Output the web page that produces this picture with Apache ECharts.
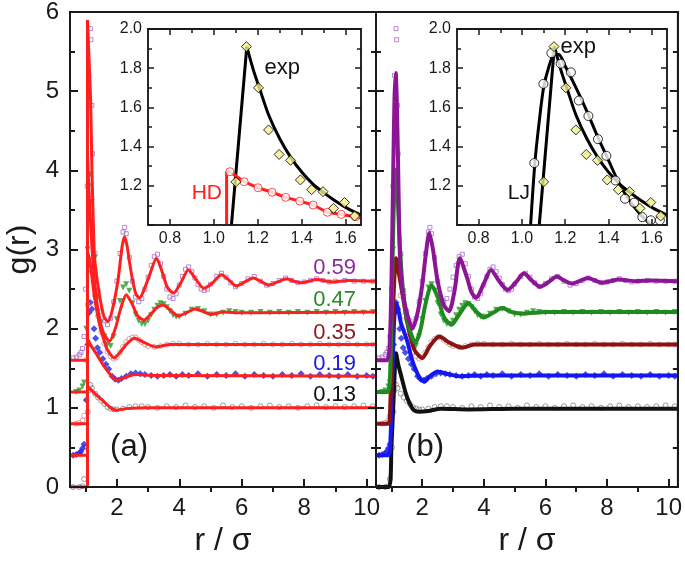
<!DOCTYPE html>
<html>
<head>
<meta charset="utf-8">
<script src="https://cdn.jsdelivr.net/npm/echarts@6/dist/echarts.min.js"></script>
<style>
  html, body { margin: 0; padding: 0; background: #fff; }
  #chart { width: 685px; height: 564px; }
</style>
</head>
<body>
<div id="chart"></div>
<script>
// packing fraction of each curve and how far it is shifted up
const etas = ['0.13', '0.19', '0.35', '0.47', '0.59']
const shifts = [0, 0.4, 0.8, 1.2, 1.6]

// tick positions
const xMajor = [2, 4, 6, 8, 10]
const xMinor = [1, 3, 5, 7, 9]
const insetXMajor = [0.8, 1.0, 1.2, 1.4, 1.6]
const insetXMinor = [0.9, 1.1, 1.3, 1.5]

// hard-disk theory, panel (a)  [r, g]
const hd013 = [[0.5,0],[1.06,0],[1.06,1.27],[1.3,1.18],[1.55,1.09],[1.8,1.0],[1.97,0.97],[2.3,0.99],[3,1.0],[10.3,1.0]]
const hd019 = [[0.5,0],[1.06,0],[1.06,1.47],[1.2,1.37],[1.38,1.26],[1.6,1.12],[1.86,0.99],[2.02,0.95],[2.3,0.99],[2.6,1.02],[3.2,1.01],[10.3,1.0]]
const hd035 = [[0.5,0],[1.06,0],[1.06,2.17],[1.13,2.07],[1.2,1.86],[1.28,1.61],[1.38,1.38],[1.49,1.18],[1.6,1.04],[1.7,0.93],[1.92,0.83],[2.1,0.9],[2.3,1.0],[2.57,1.08],[2.85,1.03],[3.25,0.97],[3.7,1.0],[10.3,1.0]]
const hd047 = [[0.5,0],[1.06,0],[1.06,3.0],[1.12,2.45],[1.2,1.85],[1.3,1.35],[1.42,0.98],[1.58,0.74],[1.76,0.64],[1.95,0.8],[2.12,1.05],[2.3,1.23],[2.48,1.12],[2.67,0.96],[2.87,0.91],[3.1,0.99],[3.3,1.07],[3.48,1.1],[3.7,1.04],[3.97,0.96],[4.22,1.0],[4.5,1.05],[4.75,1.02],[5.0,0.98],[5.4,1.01],[6.0,1.0],[10.3,1.01]]
const hd059 = [[0.5,0],[1.06,0],[1.06,4.3],[1.1,3.9],[1.16,3.29],[1.2,2.45],[1.27,1.42],[1.31,1.2],[1.45,0.81],[1.59,0.55],[1.72,0.49],[1.88,0.68],[2.04,1.02],[2.17,1.44],[2.25,1.56],[2.33,1.44],[2.41,1.23],[2.52,0.98],[2.62,0.83],[2.73,0.79],[2.88,0.9],[3.05,1.08],[3.27,1.29],[3.45,1.12],[3.62,0.92],[3.81,0.85],[4.05,0.98],[4.29,1.14],[4.52,1.03],[4.79,0.91],[5.07,0.98],[5.35,1.08],[5.6,1.01],[5.83,0.94],[6.1,0.99],[6.37,1.04],[6.6,1.0],[6.85,0.95],[7.15,0.99],[7.43,1.03],[7.67,1.0],[7.9,0.98],[8.15,1.0],[8.39,1.02],[8.9,0.99],[9.4,1.01],[10.3,1.0]]

// Lennard-Jones simulation, panel (b)
const lj013 = [[0.5,0],[0.92,0],[1.0,0.5],[1.08,1.2],[1.15,1.69],[1.22,1.55],[1.32,1.4],[1.47,1.18],[1.6,1.05],[1.73,0.97],[1.9,0.95],[2.2,0.96],[2.6,0.99],[3.5,0.98],[5,0.99],[10.3,0.99]]
const lj019 = [[0.5,0],[0.9,0],[0.97,0.2],[1.03,1.0],[1.09,1.7],[1.15,1.92],[1.22,1.85],[1.31,1.67],[1.42,1.55],[1.53,1.42],[1.66,1.22],[1.79,1.08],[1.93,0.97],[2.07,0.93],[2.25,1.0],[2.5,1.06],[2.8,1.03],[3.2,1.0],[4,1.01],[10.3,1.01]]
const lj035 = [[0.5,0],[0.9,0],[0.96,0.2],[1.02,1.0],[1.08,1.7],[1.15,2.09],[1.22,1.95],[1.37,1.61],[1.54,1.23],[1.75,0.93],[2.0,0.83],[2.25,0.98],[2.55,1.1],[2.9,1.02],[3.3,0.96],[3.7,1.0],[4.5,1.0],[10.3,1.0]]
const lj047 = [[0.5,0],[0.88,0],[0.95,0.15],[1.0,0.9],[1.05,1.9],[1.1,2.6],[1.15,2.81],[1.2,2.5],[1.28,1.8],[1.4,1.2],[1.55,0.85],[1.78,0.62],[1.95,0.8],[2.1,1.1],[2.3,1.35],[2.5,1.2],[2.7,0.95],[2.95,0.85],[3.2,0.98],[3.5,1.12],[3.75,1.02],[4.0,0.94],[4.3,1.0],[4.6,1.06],[4.9,1.01],[5.3,0.99],[6,1.01],[10.3,1.01]]
const lj059 = [[0.5,0],[0.85,0],[0.93,0.12],[0.98,0.6],[1.02,1.4],[1.06,2.4],[1.1,3.3],[1.14,3.63],[1.18,3.2],[1.22,2.4],[1.27,1.4],[1.35,0.9],[1.5,0.6],[1.68,0.4],[1.85,0.6],[2.0,0.95],[2.12,1.35],[2.23,1.61],[2.35,1.4],[2.5,1.0],[2.7,0.7],[2.87,0.62],[3.05,0.88],[3.22,1.29],[3.45,1.05],[3.6,0.86],[3.75,0.79],[4.0,0.97],[4.23,1.14],[4.5,1.0],[4.77,0.89],[5.05,0.99],[5.3,1.1],[5.55,1.01],[5.83,0.93],[6.1,0.99],[6.37,1.06],[6.6,1.01],[6.85,0.97],[7.1,1.0],[7.38,1.04],[7.6,1.01],[7.85,0.98],[8.1,1.0],[8.39,1.02],[8.9,1.0],[9.4,1.01],[10.3,1.0]]

// experiment, drawn in both panels
const exp013 = [[0.6,0],[0.8,0],[0.9,0.01],[0.95,0.1],[1.02,0.5],[1.07,0.95],[1.1,1.22],[1.15,1.29],[1.2,1.25],[1.3,1.18],[1.4,1.13],[1.5,1.09],[1.6,1.05],[1.7,1.01],[1.8,0.99],[1.9,0.98],[2.0,0.98],[2.2,0.99],[2.4,1.01],[2.6,1.02],[2.8,1.02],[3.0,1.01],[3.3,1.0],[3.6,1.02],[3.9,1.01],[4.2,1.03],[4.5,1.01],[4.8,1.02],[5.1,1.0],[5.4,1.03],[5.7,1.01],[6.0,1.02],[6.3,1.0],[6.6,1.02],[6.9,1.03],[7.2,1.01],[7.5,1.02],[7.8,1.0],[8.1,1.02],[8.4,1.03],[8.7,1.01],[9.0,1.02],[9.3,1.01],[9.6,1.02],[9.9,1.03],[10.2,1.02]]
const exp019 = [[0.6,0],[0.7,0.01],[0.8,0.03],[0.85,0.05],[0.9,0.09],[0.95,0.14],[1.02,0.7],[1.07,1.4],[1.11,1.8],[1.15,1.93],[1.2,1.85],[1.27,1.6],[1.32,1.48],[1.38,1.36],[1.45,1.3],[1.55,1.22],[1.65,1.15],[1.74,1.09],[1.85,1.0],[1.95,0.96],[2.05,0.95],[2.15,0.97],[2.3,1.0],[2.45,1.03],[2.6,1.04],[2.75,1.03],[2.9,1.02],[3.1,1.01],[3.3,1.0],[3.5,1.01],[3.7,1.02],[3.9,1.0],[4.1,1.02],[4.3,1.01],[4.6,1.03],[4.9,1.0],[5.2,1.02],[5.5,1.01],[5.8,1.03],[6.1,1.0],[6.4,1.02],[6.7,1.01],[7.0,1.0],[7.3,1.02],[7.6,1.01],[7.9,1.03],[8.2,1.0],[8.5,1.02],[8.8,1.01],[9.1,1.0],[9.4,1.02],[9.7,1.0],[10.0,1.01],[10.2,1.0]]
const exp035 = [[0.7,0],[0.8,0.01],[0.9,0.04],[0.95,0.1],[1.02,0.8],[1.06,1.5],[1.1,1.95],[1.15,2.06],[1.2,1.92],[1.3,1.62],[1.4,1.36],[1.5,1.16],[1.6,1.01],[1.7,0.91],[1.8,0.85],[1.9,0.82],[2.0,0.84],[2.1,0.9],[2.2,0.97],[2.3,1.03],[2.4,1.07],[2.5,1.09],[2.6,1.09],[2.7,1.06],[2.8,1.03],[2.9,1.0],[3.0,0.98],[3.2,0.97],[3.4,0.98],[3.6,1.0],[3.8,1.01],[4.0,1.01],[4.3,1.0],[4.6,1.0],[4.9,1.01],[5.2,1.0],[5.5,1.0],[5.8,1.01],[6.1,1.0],[6.4,1.0],[6.7,1.01],[7.0,1.0],[7.3,1.0],[7.6,1.01],[7.9,1.0],[8.2,1.0],[8.5,1.01],[8.8,1.0],[9.1,1.0],[9.4,1.01],[9.7,1.0],[10.0,1.0],[10.2,1.0]]
const exp047 = [[0.7,0],[0.8,0.02],[0.9,0.07],[0.95,0.12],[1.02,0.8],[1.06,1.8],[1.1,2.6],[1.15,2.75],[1.2,2.4],[1.3,1.7],[1.4,1.2],[1.5,0.88],[1.6,0.7],[1.7,0.6],[1.8,0.58],[1.9,0.7],[2.0,0.92],[2.1,1.15],[2.2,1.32],[2.3,1.36],[2.4,1.28],[2.5,1.12],[2.6,0.98],[2.7,0.9],[2.8,0.86],[2.9,0.86],[3.0,0.9],[3.1,0.97],[3.2,1.04],[3.3,1.09],[3.4,1.12],[3.5,1.11],[3.6,1.07],[3.7,1.02],[3.8,0.97],[3.9,0.95],[4.0,0.95],[4.2,0.99],[4.4,1.04],[4.6,1.05],[4.8,1.02],[5.0,0.98],[5.2,0.98],[5.4,1.0],[5.6,1.02],[5.8,1.01],[6.0,1.0],[6.3,1.0],[6.6,1.01],[6.9,1.0],[7.2,1.01],[7.5,1.0],[7.8,1.01],[8.1,1.0],[8.4,1.01],[8.7,1.0],[9.0,1.01],[9.3,1.0],[9.6,1.01],[9.9,1.0],[10.2,1.01]]
const exp059 = [[0.6,0.03],[0.7,0.04],[0.8,0.07],[0.85,0.1],[0.9,0.15],[0.95,0.3],[1.0,0.9],[1.05,2.2],[1.1,3.6],[1.15,4.19],[1.17,4.05],[1.2,3.22],[1.22,2.61],[1.3,1.35],[1.4,0.88],[1.5,0.62],[1.6,0.5],[1.7,0.45],[1.8,0.53],[1.9,0.74],[2.0,1.0],[2.1,1.35],[2.2,1.62],[2.25,1.68],[2.3,1.6],[2.4,1.3],[2.5,1.0],[2.6,0.8],[2.7,0.74],[2.8,0.78],[2.9,0.9],[3.0,1.05],[3.1,1.2],[3.2,1.31],[3.3,1.34],[3.4,1.22],[3.5,1.06],[3.6,0.9],[3.7,0.8],[3.8,0.78],[3.9,0.84],[4.0,0.95],[4.1,1.06],[4.2,1.15],[4.3,1.18],[4.4,1.12],[4.5,1.04],[4.6,0.96],[4.7,0.9],[4.8,0.88],[4.9,0.9],[5.0,0.96],[5.2,1.06],[5.35,1.1],[5.5,1.05],[5.65,0.98],[5.8,0.93],[6.0,0.97],[6.2,1.03],[6.4,1.06],[6.6,1.0],[6.8,0.95],[7.0,0.97],[7.2,1.01],[7.4,1.04],[7.6,1.01],[7.8,0.98],[8.0,0.99],[8.2,1.01],[8.4,1.03],[8.6,1.01],[8.8,0.99],[9.0,1.0],[9.3,1.01],[9.6,1.0],[9.9,1.0],[10.2,1.0]]

// insets: first peak close up
const insetExpPts = [[1.10,1.22],[1.148,1.91],[1.203,1.70],[1.249,1.485],[1.297,1.36],[1.349,1.33],[1.394,1.23],[1.445,1.18],[1.497,1.17],[1.545,1.085],[1.595,1.115],[1.641,1.046]]
const insetExpFit = [[1.08,1.0],[1.15,1.91],[1.18,1.79],[1.21,1.69],[1.25,1.56],[1.3,1.44],[1.35,1.345],[1.4,1.27],[1.45,1.21],[1.5,1.165],[1.55,1.125],[1.6,1.09],[1.67,1.05]]
const insetHdPts = [[1.073,1.272],[1.138,1.221],[1.201,1.19],[1.265,1.167],[1.327,1.141],[1.391,1.122],[1.452,1.102],[1.517,1.065],[1.58,1.054],[1.644,1.042]]
const insetHdLine = [[1.058,1.0],[1.058,1.27],[1.073,1.272],[1.138,1.221],[1.201,1.19],[1.265,1.167],[1.327,1.141],[1.391,1.122],[1.452,1.102],[1.517,1.065],[1.58,1.054],[1.644,1.042],[1.67,1.035]]
const insetLjPts = [[1.057,1.316],[1.099,1.72],[1.136,1.877],[1.179,1.823],[1.226,1.779],[1.263,1.635],[1.307,1.556],[1.351,1.438],[1.39,1.353],[1.432,1.227],[1.476,1.134],[1.518,1.114],[1.556,1.04],[1.595,1.024],[1.637,1.024]]
const insetLjLine = [[1.04,1.0],[1.06,1.32],[1.08,1.53],[1.1,1.7],[1.125,1.81],[1.15,1.87],[1.17,1.87],[1.2,1.81],[1.25,1.7],[1.3,1.58],[1.35,1.45],[1.4,1.33],[1.45,1.21],[1.5,1.12],[1.55,1.05],[1.6,1.0]]

const hdCurves = [hd013, hd019, hd035, hd047, hd059]
const ljCurves = [lj013, lj019, lj035, lj047, lj059]
const expCurves = [exp013, exp019, exp035, exp047, exp059]

const ink = '#1a1a1a'
const red = '#ff1f1f'
const colors = ['#111111', '#1616ee', '#8b1212', '#1f8b1f', '#8b1595']
const font = '"Liberation Sans", Arial, sans-serif'

const markStyle = [
  { symbol: 'circle', size: 5, item: { color: 'rgba(0,0,0,0)', borderColor: '#808080', borderWidth: 1 } },
  { symbol: 'diamond', size: 7, item: { color: '#1c24e8' } },
  { symbol: 'circle', size: 5, item: { color: 'rgba(0,0,0,0)', borderColor: '#c49090', borderWidth: 1 } },
  { symbol: 'triangle', size: 6, rotate: 180, item: { color: '#2a9a2a' } },
  { symbol: 'rect', size: 4, item: { color: 'rgba(0,0,0,0)', borderColor: '#a868cc', borderWidth: 1 } }
]

function shift(pts, s) {
  return pts.map(p => [p[0], p[1] + s])
}

// split at the highest point so the contact jump stays straight
function splitAtPeak(pts) {
  let k = 0
  pts.forEach((p, i) => { if (p[1] > pts[k][1]) k = i })
  return [pts.slice(0, k + 1), pts.slice(k)]
}

// ticks sit above the series and the inset backgrounds
const tickZ = 30

function mainX(grid) {
  const line = { show: true, lineStyle: { color: ink, width: 2 } }
  return [{
    gridIndex: grid, type: 'value', min: 0.5, max: 10.3, z: tickZ,
    axisLine: line, splitLine: { show: false },
    axisTick: { show: true, inside: true, length: 8, customValues: xMajor, lineStyle: { color: ink, width: 2 } },
    axisLabel: { customValues: xMajor, fontSize: 24, color: ink, margin: 9, fontFamily: font },
    name: 'r / σ', nameLocation: 'middle', nameGap: 36,
    nameTextStyle: { fontSize: 32, color: ink, fontFamily: font }
  }, {
    gridIndex: grid, type: 'value', min: 0.5, max: 10.3, z: tickZ,
    axisLine: line, splitLine: { show: false },
    axisTick: { show: true, inside: true, length: 5, customValues: xMinor, lineStyle: { color: ink, width: 2 } },
    axisLabel: { show: false }
  }]
}

function mainY(grid, pos, labels) {
  return {
    gridIndex: grid, type: 'value', position: pos, min: 0, max: 6, interval: 1, z: tickZ,
    axisLine: { show: true, lineStyle: { color: ink, width: 2 } }, splitLine: { show: false },
    axisTick: { show: true, inside: true, length: 8, lineStyle: { color: ink, width: 2 } },
    minorTick: { show: true, splitNumber: 2, length: 5, lineStyle: { color: ink, width: 2 } },
    axisLabel: { show: labels, fontSize: 24, color: ink, margin: 11, fontFamily: font },
    name: labels ? 'g(r)' : '', nameLocation: 'middle', nameGap: 34,
    nameTextStyle: { fontSize: 32, color: ink, fontFamily: font }
  }
}

function insetX(grid) {
  const base = { gridIndex: grid, type: 'value', min: 0.7, max: 1.67, z: tickZ,
    axisLine: { show: true, lineStyle: { color: ink, width: 1.5 } }, splitLine: { show: false } }
  const tick = (vals, len) => ({ show: true, inside: true, length: len, customValues: vals, lineStyle: { color: ink, width: 1.5 } })
  return [
    Object.assign({}, base, { axisTick: tick(insetXMajor, 6),
      axisLabel: { customValues: insetXMajor, fontSize: 16, color: ink, margin: 6, fontFamily: font,
        formatter: v => v.toFixed(1) } }),
    Object.assign({}, base, { axisTick: tick(insetXMinor, 4), axisLabel: { show: false } }),
    Object.assign({}, base, { position: 'top', axisTick: tick(insetXMajor, 6), axisLabel: { show: false } }),
    Object.assign({}, base, { position: 'top', axisTick: tick(insetXMinor, 4), axisLabel: { show: false } })
  ]
}

function insetY(grid, pos, labels) {
  return {
    gridIndex: grid, type: 'value', position: pos, min: 1.0, max: 2.0, interval: 0.2, z: tickZ,
    axisLine: { show: true, lineStyle: { color: ink, width: 1.5 } }, splitLine: { show: false },
    axisTick: { show: true, inside: true, length: 6, lineStyle: { color: ink, width: 1.5 } },
    minorTick: { show: true, splitNumber: 2, length: 4, lineStyle: { color: ink, width: 1.5 } },
    axisLabel: { show: labels, showMinLabel: false, fontSize: 16, color: ink, margin: 6, fontFamily: font,
      formatter: v => v.toFixed(1) }
  }
}

const xAxis = [].concat(mainX(0), mainX(1), insetX(2), insetX(3))
const yAxis = [mainY(0, 'left', true), mainY(0, 'right', false), mainY(1, 'left', false), mainY(1, 'right', false),
  insetY(2, 'left', true), insetY(2, 'right', false), insetY(3, 'left', true), insetY(3, 'right', false)]

const series = []

function addMarks(xi, yi) {
  expCurves.forEach((pts, i) => {
    const m = markStyle[i]
    series.push({
      type: 'scatter', xAxisIndex: xi, yAxisIndex: yi, z: 2,
      symbol: m.symbol, symbolSize: m.size, symbolRotate: m.rotate || 0,
      itemStyle: m.item, data: shift(pts, shifts[i])
    })
  })
}

// panel (a): experiment + hard-disk theory
addMarks(0, 0)
hdCurves.forEach((pts, i) => {
  const parts = splitAtPeak(shift(pts, shifts[i]))
  series.push({ type: 'line', xAxisIndex: 0, yAxisIndex: 0, z: 3, showSymbol: false,
    lineStyle: { color: red, width: 3 }, data: parts[0] })
  series.push({ type: 'line', xAxisIndex: 0, yAxisIndex: 0, z: 3, showSymbol: false, smooth: 0.25,
    lineStyle: { color: red, width: 3 }, data: parts[1] })
})

// panel (b): experiment + LJ simulation
addMarks(2, 2)
ljCurves.forEach((pts, i) => {
  series.push({ type: 'line', xAxisIndex: 2, yAxisIndex: 2, z: 3, showSymbol: false, smooth: 0.25,
    lineStyle: { color: colors[i], width: 4 }, data: shift(pts, shifts[i]) })
})

function addInsetExp(xi, yi) {
  const parts = splitAtPeak(insetExpFit)
  series.push({ type: 'line', xAxisIndex: xi, yAxisIndex: yi, z: 13, showSymbol: false,
    lineStyle: { color: '#000', width: 3 }, data: parts[0] })
  series.push({ type: 'line', xAxisIndex: xi, yAxisIndex: yi, z: 13, showSymbol: false, smooth: 0.3,
    lineStyle: { color: '#000', width: 3 }, data: parts[1] })
}
function addInsetDiamonds(xi, yi) {
  series.push({ type: 'scatter', xAxisIndex: xi, yAxisIndex: yi, z: 15, symbol: 'diamond', symbolSize: 10,
    itemStyle: { color: '#f3f08a', borderColor: '#000', borderWidth: 1 }, data: insetExpPts })
}

// inset (a)
addInsetExp(4, 4)
series.push({ type: 'line', xAxisIndex: 4, yAxisIndex: 4, z: 13, showSymbol: false,
  lineStyle: { color: red, width: 3 }, data: insetHdLine })
series.push({ type: 'scatter', xAxisIndex: 4, yAxisIndex: 4, z: 14, symbol: 'circle', symbolSize: 8,
  itemStyle: { color: '#fff', borderColor: red, borderWidth: 1 }, data: insetHdPts })
addInsetDiamonds(4, 4)

// inset (b)
addInsetExp(8, 6)
series.push({ type: 'line', xAxisIndex: 8, yAxisIndex: 6, z: 13, showSymbol: false, smooth: 0.3,
  lineStyle: { color: '#000', width: 3 }, data: insetLjLine })
series.push({ type: 'scatter', xAxisIndex: 8, yAxisIndex: 6, z: 14, symbol: 'circle', symbolSize: 9,
  itemStyle: { color: '#fff', borderColor: '#000', borderWidth: 1 }, data: insetLjPts })
addInsetDiamonds(8, 6)

function label(text, x, y, color, size) {
  return { type: 'text', x: x, y: y, z: 40,
    style: { text: text, fill: color, font: size + 'px ' + font,
      textAlign: 'right', align: 'right', textVerticalAlign: 'middle', verticalAlign: 'middle' } }
}

const chart = echarts.init(document.getElementById('chart'))
chart.setOption({
  animation: false,
  grid: [
    { left: 70, top: 12, width: 306, height: 475, show: true, borderColor: ink, borderWidth: 2 },
    { left: 376, top: 12, width: 306, height: 475, show: true, borderColor: ink, borderWidth: 2 },
    { left: 148, top: 29, width: 213, height: 196, show: true, z: 10, borderColor: ink, borderWidth: 1.5, backgroundColor: '#fff' },
    { left: 457, top: 29, width: 210, height: 196, show: true, z: 10, borderColor: ink, borderWidth: 1.5, backgroundColor: '#fff' }
  ],
  xAxis: xAxis,
  yAxis: yAxis,
  series: series,
  graphic: [
    label('0.59', 356, 268, '#8b2a9b', 22),
    label('0.47', 356, 300, '#2a8a2a', 22),
    label('0.35', 356, 333, '#8b1a1a', 22),
    label('0.19', 356, 364, '#1a1ae8', 22),
    label('0.13', 356, 395, '#111', 22),
    label('(a)', 148, 447, ink, 31),
    label('(b)', 444, 447, ink, 31),
    label('exp', 300, 68, '#111', 22),
    label('HD', 222, 193, red, 21),
    label('exp', 596, 47, '#111', 22),
    label('LJ', 530, 193, '#111', 21)
  ]
})
</script>
</body>
</html>
